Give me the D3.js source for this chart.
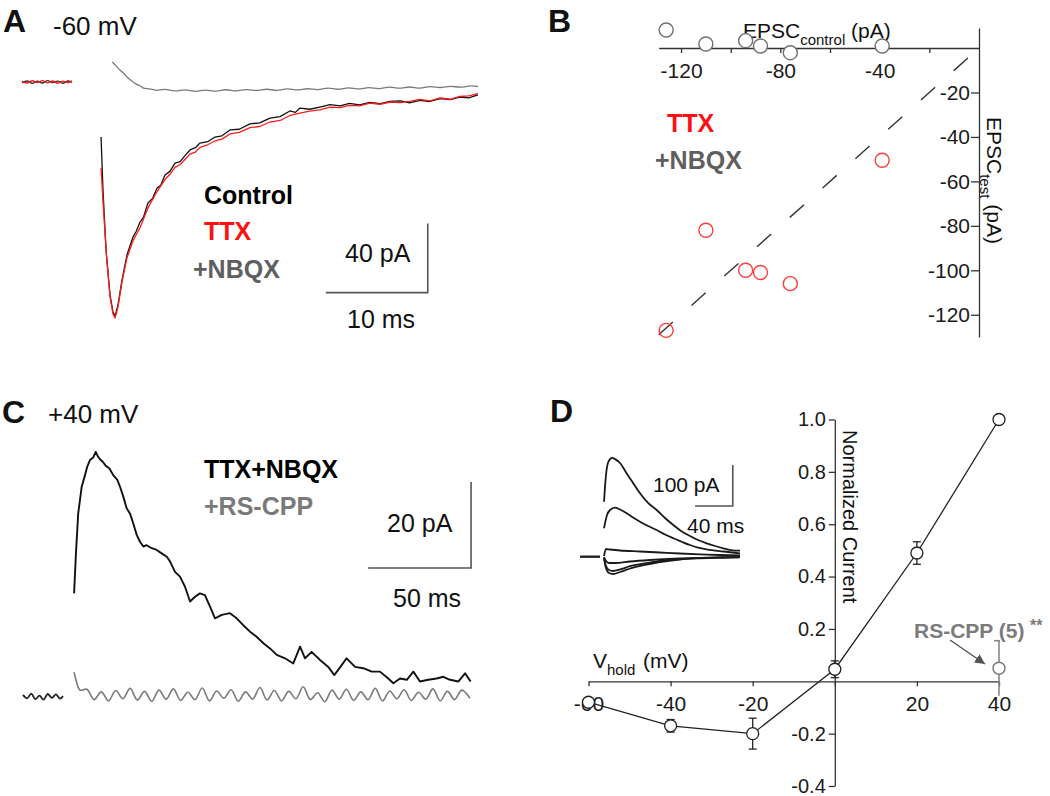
<!DOCTYPE html>
<html><head><meta charset="utf-8">
<script src="https://cdn.jsdelivr.net/npm/d3@7"></script>
<style>body{margin:0;background:#fff}</style>
</head><body><svg id="fig" width="1050" height="796"></svg>
<script>
// ---------------- DATA ----------------
// Panel A (-60 mV): [time ms, current pA]
const aBaseCtrl = [[0,-0.5],[0.5,0.6],[1,-0.8],[1.5,0.4],[2,-0.6],[2.5,0.8],[3,-0.3],[3.5,0.5],[4,-0.7],[4.5,0.6],[4.9,-0.2]];
const aBaseTTX = [[0,0.4],[0.5,-0.6],[1,0.7],[1.5,-0.3],[2,0.8],[2.5,-0.5],[3,0.6],[3.5,-0.7],[4,0.5],[4.5,-0.4],[4.9,0.6]];
const aControl = [[7.75,-31.9],[7.94,-62.6],[8.24,-97.4],[8.63,-123.5],[8.92,-133.3],[9.12,-135.7],[9.41,-129.3],[9.8,-114.8],[10.29,-100.3],[10.88,-89.9],[11.2,-86.5],[11.57,-81.2],[11.9,-78.5],[12.35,-70.1],[12.8,-67.5],[13.24,-61.4],[13.6,-59.8],[14.02,-53.9],[14.5,-51.8],[15.0,-47.0],[15.5,-46.2],[16.0,-42.5],[16.47,-39.4],[17.0,-38.1],[17.45,-35.4],[18.2,-34.6],[18.92,-31.9],[19.6,-31.2],[20.39,-27.8],[21.3,-27.4],[22.35,-24.3],[23.3,-23.7],[24.31,-20.9],[25.3,-20.1],[26.27,-16.8],[26.8,-17.6],[27.25,-15.1],[28.2,-15.8],[29.2,-14.5],[30.2,-13.1],[31.2,-13.9],[32.1,-12.4],[33.1,-13.2],[34.1,-11.8],[35.1,-12.6],[36.1,-11.2],[37.1,-11.0],[38.0,-12.1],[39.0,-10.6],[40.0,-11.3],[41.0,-9.6],[42.0,-10.2],[42.9,-8.7],[43.8,-9.2],[44.7,-7.5]];
const aTTX = [[7.75,-49.9],[8.0,-75],[8.3,-102],[8.63,-124.5],[8.92,-134.5],[9.12,-136.8],[9.41,-130.5],[9.8,-116],[10.29,-102],[10.88,-92],[11.57,-84.5],[12.35,-73],[13.24,-63.5],[14.02,-56.5],[14.5,-53.5],[15.0,-49.5],[15.5,-47.8],[16.0,-44.8],[16.47,-41.8],[17.0,-40.6],[17.45,-37.9],[18.2,-36.4],[18.92,-34.2],[19.6,-33.1],[20.39,-30.1],[21.3,-29.2],[22.35,-26.5],[23.3,-25.8],[24.31,-23.2],[25.3,-22.3],[26.27,-19.4],[27.25,-18.0],[28.2,-16.9],[29.2,-16.2],[30.2,-14.6],[31.2,-14.9],[32.1,-13.5],[33.1,-13.8],[34.1,-12.2],[35.1,-12.9],[36.1,-11.6],[37.1,-11.9],[38.0,-11.2],[39.0,-10.1],[40.0,-10.9],[41.0,-9.2],[42.0,-10.0],[42.9,-8.4],[43.8,-8.0],[44.7,-6.7]];
const aNBQX = [[8.86,11.6],[9.2,9.5],[9.6,7.0],[10.0,4.8],[10.4,2.3],[10.8,0.4],[11.2,-1.2],[11.6,-2.3],[11.9,-3.5],[12.5,-4.0],[13.2,-4.8],[14.0,-4.3],[15.0,-5.2],[16.0,-4.6],[17.0,-5.4],[18.0,-4.7],[19.0,-5.3],[20.0,-4.5],[21.0,-5.1],[22.0,-4.4],[23.0,-4.9],[24.0,-4.2],[25.0,-4.8],[26.0,-4.0],[27.0,-4.6],[28.0,-3.9],[29.0,-4.4],[30.0,-3.6],[31.0,-4.2],[32.0,-3.4],[33.0,-4.0],[34.0,-3.3],[35.0,-3.8],[36.0,-3.0],[37.0,-3.6],[38.0,-2.9],[39.0,-3.5],[40.0,-2.7],[41.0,-3.2],[42.0,-2.5],[43.0,-3.0],[44.0,-2.3],[44.7,-2.6]];
const aScaleBar = {ms: 10, pA: 40};
const aLegend = ["Control", "TTX", "+NBQX"];

// Panel B: EPSC amplitudes (pA)
const bControl = [-126, -110, -94, -88, -76, -39];
const bTTX = [-127, -82, -100, -101, -106, -50.5];
const bNBQX = [8.1, 1.8, 3.3, 0.9, -2.1, 0.9];
const bXTicks = [-120, -100, -80, -60, -40, -20];
const bXLabels = [-120, -80, -40];
const bYTicks = [-20, -40, -60, -80, -100, -120];
const bLegend = ["TTX", "+NBQX"];

// Panel C (+40 mV): [time ms, current pA]
const cBase = [[0,0.5],[2,-0.3],[4,0.8],[6,-0.5],[8,0.3],[10,-0.6],[12,0.7],[14,-0.2],[16,0.6],[18,-0.4],[19.4,0.2]];
const cTTXNBQX = [[24.8,24.1],[25.7,33.4],[26.8,42.7],[28.5,48.9],[30.1,51.6],[31.2,53.6],[32.5,55.1],[34.1,55.7],[35.3,57.0],[36.3,56.0],[37.4,55.3],[38.7,54.7],[40.3,53.7],[41.9,53.2],[43.8,51.6],[45.8,50.5],[47.1,48.9],[48.7,46.6],[50.3,43.9],[51.9,42.7],[53.5,40.4],[55.2,37.7],[56.8,36.1],[58.4,35.0],[60.0,35.3],[62.5,34.6],[64.9,34.2],[67.3,33.4],[69.8,32.6],[71.4,31.5],[73.8,29.1],[76.2,28.0],[78.6,25.7],[81.1,22.2],[83.5,23.3],[85.9,24.1],[88.3,23.7],[90.8,21.0],[93.2,18.3],[96.5,19.1],[100.5,19.5],[103.7,18.3],[106.9,16.7],[110.2,15.2],[113.4,14.0],[116.7,12.5],[119.9,11.3],[123.2,9.8],[127.2,9.0],[131.2,7.8],[134.5,11.7],[136.9,9.0],[140.1,10.5],[144.2,8.6],[148.2,7.0],[151.1,5.1],[154.7,7.4],[157.1,9.0],[161.2,7.0],[165.2,6.7],[169.3,5.9],[173.3,5.9],[177.3,4.3],[179.8,3.2],[183.0,4.3],[186.3,4.0],[189.5,5.9],[192.7,3.6],[196.7,4.0],[200.8,4.3],[204.0,4.7],[207.3,4.0],[211.3,3.6],[214.6,5.5],[217.3,3.6]];
const cRSCPPt = [24.8,25.7,27.7,31,34.5,38,41.5,45,48.5,52,55.5,59,62.5,66,69.5,73,76.5,80,83.5,87,90.5,94,97.5,101,104.5,108,111.5,115,118.5,122,125.5,129,132.5,136,139.5,143,146.5,150,153.5,157,160.5,164,167.5,171,174.5,178,181.5,185,188.5,192,195.5,199,202.5,206,209.5,213,217];
const cRSCPPi = [5.8,4.0,1.6,1.8,-0.6,1.2,-0.9,1.5,-0.4,2.0,-0.7,1.3,-1.0,1.6,-0.5,1.9,-0.8,1.1,-0.6,2.1,-0.9,1.4,-0.3,1.7,-1.0,1.2,-0.5,2.2,-0.7,1.5,-0.9,1.3,-0.4,2.4,-0.6,1.0,-1.1,1.6,-0.5,1.8,-0.8,1.2,-0.6,2.0,-0.9,1.4,-0.4,1.7,-0.8,1.1,-0.5,1.9,-0.9,1.3,-0.6,1.6,-0.3];
const cScaleBar = {ms: 50, pA: 20};
const cLegend = ["TTX+NBQX", "+RS-CPP"];

// Panel D: I-V relation
const dVhold = [-60, -40, -20, 0, 20, 40];
const dCurrent = [-0.08, -0.17, -0.20, 0.046, 0.49, 1.0];
const dSem = [0, 0.024, 0.059, 0.032, 0.043, 0];
const dRSCPP = {v: 40, mean: 0.05, sem: 0.105, label: "RS-CPP (5)", stars: "**"};
const dXTicks = [-60, -40, -20, 0, 20, 40];
const dYTicks = [-0.4, -0.2, 0.2, 0.4, 0.6, 0.8, 1.0];
// Panel D inset traces: [time ms, current pA] per holding potential
const insetBase = [[-25.5,0],[-4.2,0]];
const inset40 = [[0,134],[2.1,199],[4.6,231],[8.5,241],[11.7,238],[17,228.5],[24.1,203],[30.8,180],[38.2,154.6],[46.7,131],[55.9,114],[64.7,94.4],[73.5,77.3],[81.7,62.7],[91.2,50.5],[99.7,40.7],[108.9,32.7],[117.8,26.1],[126.6,20.5],[134.7,16.3],[144.3,14.6]];
const inset20 = [[0,69.3],[3.2,101.7],[6.4,113.9],[11.7,119.5],[17,115],[24.1,105.9],[30.8,95.6],[38.2,85.4],[46.7,74.9],[55.9,65.1],[64.7,54.1],[73.5,44.9],[81.7,37.1],[91.2,28.5],[99.7,22.4],[108.9,18],[126.6,12.7],[144.3,8.3]];
const inset0 = [[0,1.7],[2.1,18.8],[6.4,17.6],[17,15.1],[38.2,12.7],[59.4,10.2],[80.6,7.8],[101.9,5.9],[123.1,4.1],[144.3,2.9]];
const insetM20 = [[0,-3.2],[2.1,-27.6],[5.3,-39.8],[9.5,-42.2],[17,-37.3],[27.6,-28.8],[43.5,-20.2],[59.4,-12.9],[80.6,-6.8],[101.9,-3.9],[123.1,-2],[144.3,-0.7]];
const insetM40 = [[0,-3.2],[2.1,-22.7],[5.3,-32.4],[9.5,-34.9],[17,-31.2],[27.6,-23.2],[43.5,-16.6],[59.4,-10.5],[80.6,-5.6],[101.9,-3.2],[144.3,-1.2]];
const insetM60 = [[0,-0.7],[2.1,-10.5],[5.3,-15.4],[11.7,-15.4],[27.6,-11.7],[48.8,-8],[80.6,-3.9],[144.3,-1.5]];
const insetScaleBar = {ms: 40, pA: 100};

// ---------------- DRAW ----------------
const FONT = '"Liberation Sans", Arial, Helvetica, sans-serif';
const svg = d3.select('#fig');
svg.append('rect').attr('width',1050).attr('height',796).attr('fill','#fff');
const defs = svg.append('defs');
defs.append('marker').attr('id','arr').attr('viewBox','0 0 10 10').attr('refX',10).attr('refY',5)
  .attr('markerWidth',10).attr('markerHeight',10).attr('markerUnits','userSpaceOnUse').attr('orient','auto')
  .append('path').attr('d','M0,0 L10,5 L0,10 z').attr('fill','#555');

function txt(x, y, s, size, o = {}) {
  const t = svg.append('text').attr('x', x).attr('y', y).text(s)
    .attr('font-family', FONT).attr('font-size', size)
    .attr('font-weight', o.bold ? 'bold' : 'normal')
    .attr('fill', o.fill || '#111');
  if (o.anchor) t.attr('text-anchor', o.anchor);
  return t;
}
function path(data, line, color, w) {
  svg.append('path').datum(data).attr('d', line).attr('fill','none')
    .attr('stroke', color).attr('stroke-width', w).attr('stroke-linejoin','round');
}
function scaleBar(x, y, t0, i0, sb, color) {
  const t1 = t0 + sb.ms, i1 = i0 + sb.pA;
  svg.append('path').attr('d', `M${x(t0)},${y(i0)}H${x(t1)}V${y(i1)}`)
    .attr('fill','none').attr('stroke', color).attr('stroke-width', 1.6);
}
function styleAxis(g, size) {
  g.selectAll('path,line').attr('stroke','#333').attr('stroke-width',1.3);
  g.selectAll('text').attr('font-size', size).attr('font-family', FONT).attr('fill','#1a1a1a');
}

// ----- Panel A -----
const xA = d3.scaleLinear().domain([0,45]).range([22,481]);
const yA = d3.scaleLinear().domain([0,-140]).range([82,323.5]);
const lineA = d3.line().x(d=>xA(d[0])).y(d=>yA(d[1]));
const lineAs = d3.line().x(d=>xA(d[0])).y(d=>yA(d[1])).curve(d3.curveCatmullRom);
path(aNBQX, lineAs, '#7a7a7a', 1.3);
path(aBaseCtrl, lineAs, '#333', 1.4);
path(aBaseTTX, lineAs, '#ff1a1a', 1.4);
path(aControl, lineA, '#111', 1.3);
path(aTTX, lineA, '#ff1a1a', 1.3);
scaleBar(xA, yA, 29.78, -122.1, aScaleBar, '#555');
txt(3, 32, 'A', 32, {bold:true});
txt(53, 35, '-60 mV', 26);
txt(204, 204, aLegend[0], 25, {bold:true, fill:'#000'});
txt(204, 240, aLegend[1], 25, {bold:true, fill:'#ff1010'});
txt(193, 278, aLegend[2], 25, {bold:true, fill:'#5f5f5f'});
txt(345, 262, aScaleBar.pA + ' pA', 25);
txt(347, 328, aScaleBar.ms + ' ms', 25);

// ----- Panel B -----
const xB = d3.scaleLinear().domain([-129,0]).range([658.7,979]);
const yB = d3.scaleLinear().domain([9,-130]).range([28,337]);
txt(548, 32, 'B', 32, {bold:true});
const gBx = svg.append('g').attr('transform',`translate(0,${yB(0)})`)
  .call(d3.axisBottom(xB).tickValues(bXTicks).tickFormat(d=> bXLabels.includes(d) ? String(d) : '')
    .tickSize(5).tickPadding(10).tickSizeOuter(0));
styleAxis(gBx, 21);
const gBy = svg.append('g').attr('transform',`translate(${xB(0)},0)`)
  .call(d3.axisLeft(yB).tickValues(bYTicks).tickFormat(d=>String(d)).tickSize(8).tickPadding(1).tickSizeOuter(0));
styleAxis(gBy, 21);
// identity line
svg.append('path').datum([[-129,-129],[0,0]])
  .attr('d', d3.line().x(d=>xB(d[0])).y(d=>yB(d[1])))
  .attr('stroke','#333').attr('stroke-width',1.4).attr('stroke-dasharray','19,25').attr('fill','none');
// axis titles
const bxT = txt(743, 38, 'EPSC', 21);
bxT.append('tspan').attr('font-size',15).attr('dy',7).text('control');
bxT.append('tspan').attr('dy',-7).text(' (pA)');
const byT = svg.append('text').attr('transform','translate(987,117) rotate(90)')
  .attr('font-family',FONT).attr('font-size',21).attr('fill','#111').text('EPSC');
byT.append('tspan').attr('font-size',15).attr('dy',7).text('test');
byT.append('tspan').attr('dy',-7).text(' (pA)');
// points
svg.append('g').selectAll('circle').data(bControl.map((c,i)=>[c,bNBQX[i]])).join('circle')
  .attr('cx',d=>xB(d[0])).attr('cy',d=>yB(d[1])).attr('r',7)
  .attr('fill','#fff').attr('stroke','#707070').attr('stroke-width',1.4);
svg.append('g').selectAll('circle').data(bControl.map((c,i)=>[c,bTTX[i]])).join('circle')
  .attr('cx',d=>xB(d[0])).attr('cy',d=>yB(d[1])).attr('r',7)
  .attr('fill','none').attr('stroke','#ff3b3b').attr('stroke-width',1.4);
txt(667, 132, bLegend[0], 25, {bold:true, fill:'#ff1010'});
txt(655, 169, bLegend[1], 25, {bold:true, fill:'#5f5f5f'});

// ----- Panel C -----
const xC = d3.scaleLinear().domain([0,220]).range([23,476.2]);
const yC = d3.scaleLinear().domain([0,60]).range([697,439]);
const lineC = d3.line().x(d=>xC(d[0])).y(d=>yC(d[1]));
const lineCs = d3.line().x(d=>xC(d[0])).y(d=>yC(d[1])).curve(d3.curveCatmullRom);
path(cBase, lineCs, '#222', 1.8);
path(cRSCPPt.map((t,i)=>[t,cRSCPPi[i]]), lineCs, '#7a7a7a', 1.6);
path(cTTXNBQX, lineC, '#111', 1.9);
scaleBar(xC, yC, 167.5, 30, cScaleBar, '#555');
txt(2, 423, 'C', 32, {bold:true});
txt(48, 423, '+40 mV', 26);
txt(204, 478, cLegend[0], 25, {bold:true, fill:'#000'});
txt(204, 515, cLegend[1], 25, {bold:true, fill:'#7a7a7a'});
txt(387, 532, cScaleBar.pA + ' pA', 25);
txt(393, 607, cScaleBar.ms + ' ms', 25);

// ----- Panel D -----
const xD = d3.scaleLinear().domain([-60,40]).range([588.5,999]);
const yD = d3.scaleLinear().domain([-0.4,1.0]).range([786,419.5]);
txt(550, 422, 'D', 32, {bold:true});
const gDx = svg.append('g').attr('transform',`translate(0,${yD(0)})`)
  .call(d3.axisBottom(xD).tickValues(dXTicks).tickFormat(d=> d===0 ? '' : String(d))
    .tickSize(5).tickPadding(10).tickSizeOuter(0));
styleAxis(gDx, 21);
const gDy = svg.append('g').attr('transform',`translate(${xD(0)},0)`)
  .call(d3.axisLeft(yD).tickValues(dYTicks).tickFormat(d=>d.toFixed(1)).tickSize(6).tickPadding(3).tickSizeOuter(0));
styleAxis(gDy, 20);
// axis titles
txt(593, 668, 'V', 21);
txt(607, 675, 'hold', 15);
txt(643, 668, '(mV)', 21);
svg.append('text').attr('transform','translate(843,430) rotate(90)')
  .attr('font-family',FONT).attr('font-size',20).attr('fill','#111').text('Normalized Current');
// RS-CPP
const rx = xD(dRSCPP.v);
svg.append('line').attr('x1',rx).attr('x2',rx).attr('y1',yD(dRSCPP.mean+dRSCPP.sem)).attr('y2',yD(dRSCPP.mean-dRSCPP.sem))
  .attr('stroke','#888').attr('stroke-width',1.6);
svg.append('line').attr('x1',rx-5).attr('x2',rx+1).attr('y1',yD(dRSCPP.mean+dRSCPP.sem)).attr('y2',yD(dRSCPP.mean+dRSCPP.sem))
  .attr('stroke','#888').attr('stroke-width',1.6);
svg.append('circle').attr('cx',rx).attr('cy',yD(dRSCPP.mean)).attr('r',6)
  .attr('fill','#fff').attr('stroke','#777').attr('stroke-width',1.4);
svg.append('line').attr('x1',950).attr('y1',640).attr('x2',985).attr('y2',664)
  .attr('stroke','#555').attr('stroke-width',1.5).attr('marker-end','url(#arr)');
txt(914, 638, dRSCPP.label, 21, {bold:true, fill:'#7b7b7b'});
txt(1030, 631, dRSCPP.stars, 16, {bold:true, fill:'#7b7b7b'});
// IV line, error bars, points
const ivData = dVhold.map((v,i)=>({v, m:dCurrent[i], s:dSem[i]}));
svg.append('path').datum(ivData).attr('d', d3.line().x(d=>xD(d.v)).y(d=>yD(d.m)))
  .attr('fill','none').attr('stroke','#222').attr('stroke-width',1.3);
const eb = svg.append('g').attr('stroke','#222').attr('stroke-width',1.3);
ivData.filter(d=>d.s>0).forEach(d=>{
  const x = xD(d.v);
  eb.append('line').attr('x1',x).attr('x2',x).attr('y1',yD(d.m-d.s)).attr('y2',yD(d.m+d.s));
  eb.append('line').attr('x1',x-4).attr('x2',x+4).attr('y1',yD(d.m-d.s)).attr('y2',yD(d.m-d.s));
  eb.append('line').attr('x1',x-4).attr('x2',x+4).attr('y1',yD(d.m+d.s)).attr('y2',yD(d.m+d.s));
});
svg.append('g').selectAll('circle').data(ivData).join('circle')
  .attr('cx',d=>xD(d.v)).attr('cy',d=>yD(d.m)).attr('r',6)
  .attr('fill','#fff').attr('stroke','#222').attr('stroke-width',1.3);
// inset
const xI = d3.scaleLinear().domain([-26,150]).range([579.5,745.4]);
const yI = d3.scaleLinear().domain([0,240]).range([556.7,458.3]);
const lineI = d3.line().x(d=>xI(d[0])).y(d=>yI(d[1])).curve(d3.curveMonotoneX);
path(insetBase, lineI, '#222', 2.4);
[inset40, inset20, inset0, insetM20, insetM40, insetM60].forEach(tr => path(tr, lineI, '#1a1a1a', 1.8));
scaleBar(xI, yI, 96.6, 123.7, insetScaleBar, '#555');
txt(653, 492, insetScaleBar.pA + ' pA', 21);
txt(687, 533, insetScaleBar.ms + ' ms', 21);
</script></body></html>
